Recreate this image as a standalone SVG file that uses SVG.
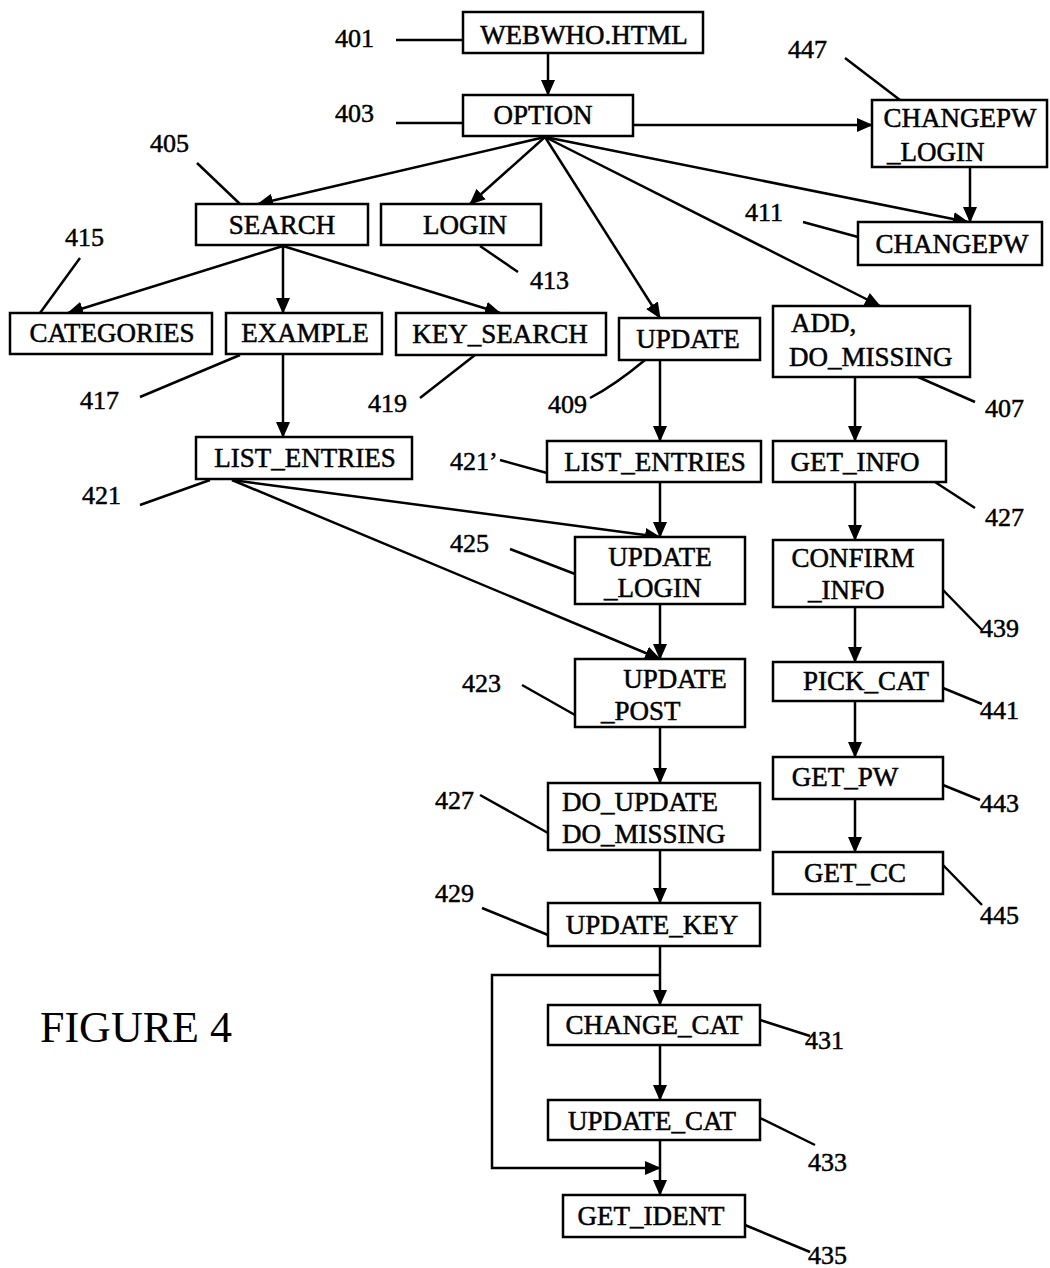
<svg xmlns="http://www.w3.org/2000/svg" width="1050" height="1268" viewBox="0 0 1050 1268">
<style>
.box{fill:#fff;stroke:#000;stroke-width:2.5}
.t{font-family:"Liberation Serif","Times New Roman",serif;font-size:27px;fill:#000;stroke:#000;stroke-width:0.5}
.c{text-anchor:middle}
.n{font-family:"Liberation Serif","Times New Roman",serif;font-size:26px;fill:#000;stroke:#000;stroke-width:0.5}
.ln{stroke:#000;stroke-width:2.5;fill:none}
.ar{stroke:#000;stroke-width:2.5;fill:none;marker-end:url(#ah)}
</style>
<defs>
<marker id="ah" markerWidth="16" markerHeight="14" refX="15" refY="7" orient="auto" markerUnits="userSpaceOnUse">
<path d="M0,0 L16,7 L0,14 Z" fill="#000"/>
</marker>
</defs>
<rect width="1050" height="1268" fill="#fff"/>

<g id="connectors">
<line class="ar" x1="548" y1="53" x2="548" y2="95"/>
<line class="ar" x1="633" y1="125" x2="872" y2="125"/>
<line class="ar" x1="545" y1="137" x2="258" y2="204"/>
<line class="ar" x1="545" y1="137" x2="470" y2="204"/>
<line class="ar" x1="545" y1="137" x2="660" y2="318"/>
<line class="ar" x1="545" y1="137" x2="880" y2="306"/>
<line class="ar" x1="545" y1="137" x2="968" y2="222"/>
<line class="ar" x1="970" y1="167" x2="970" y2="222"/>
<line class="ar" x1="283" y1="246" x2="68" y2="313"/>
<line class="ar" x1="283" y1="246" x2="283" y2="313"/>
<line class="ar" x1="283" y1="246" x2="500" y2="313"/>
<line class="ar" x1="283" y1="354" x2="283" y2="437"/>
<line class="ar" x1="660" y1="360" x2="660" y2="441"/>
<line class="ar" x1="660" y1="482" x2="660" y2="537"/>
<line class="ar" x1="232" y1="480" x2="660" y2="537"/>
<line class="ar" x1="232" y1="480" x2="660" y2="659"/>
<line class="ar" x1="660" y1="604" x2="660" y2="659"/>
<line class="ar" x1="660" y1="727" x2="660" y2="783"/>
<line class="ar" x1="660" y1="850" x2="660" y2="903"/>
<line class="ar" x1="660" y1="946" x2="660" y2="1005"/>
<polyline class="ar" points="660,975 492,975 492,1168 660,1168"/>
<line class="ar" x1="660" y1="1045" x2="660" y2="1100"/>
<line class="ar" x1="660" y1="1140" x2="660" y2="1195"/>
<line class="ar" x1="855" y1="377" x2="855" y2="441"/>
<line class="ar" x1="855" y1="482" x2="855" y2="540"/>
<line class="ar" x1="855" y1="607" x2="855" y2="662"/>
<line class="ar" x1="855" y1="701" x2="855" y2="757"/>
<line class="ar" x1="855" y1="799" x2="855" y2="852"/>
</g>

<g id="leaders">
<line class="ln" x1="396" y1="40" x2="463" y2="40"/>
<line class="ln" x1="396" y1="123" x2="463" y2="123"/>
<line class="ln" x1="845" y1="58" x2="900" y2="100"/>
<line class="ln" x1="197" y1="163" x2="240" y2="204"/>
<line class="ln" x1="803" y1="222" x2="858" y2="237"/>
<line class="ln" x1="480" y1="246" x2="518" y2="272"/>
<line class="ln" x1="80" y1="258" x2="40" y2="313"/>
<line class="ln" x1="140" y1="397" x2="240" y2="355"/>
<line class="ln" x1="420" y1="398" x2="475" y2="355"/>
<path class="ln" d="M590,398 Q615,385 645,360"/>
<line class="ln" x1="918" y1="377" x2="975" y2="402"/>
<line class="ln" x1="500" y1="460" x2="547" y2="473"/>
<line class="ln" x1="140" y1="505" x2="210" y2="480"/>
<line class="ln" x1="935" y1="482" x2="975" y2="508"/>
<line class="ln" x1="510" y1="549" x2="575" y2="574"/>
<line class="ln" x1="943" y1="590" x2="982" y2="630"/>
<line class="ln" x1="522" y1="685" x2="575" y2="715"/>
<line class="ln" x1="943" y1="688" x2="982" y2="704"/>
<line class="ln" x1="480" y1="795" x2="548" y2="833"/>
<line class="ln" x1="943" y1="785" x2="980" y2="800"/>
<line class="ln" x1="943" y1="865" x2="982" y2="905"/>
<line class="ln" x1="482" y1="908" x2="548" y2="935"/>
<line class="ln" x1="760" y1="1020" x2="810" y2="1036"/>
<line class="ln" x1="760" y1="1118" x2="815" y2="1145"/>
<line class="ln" x1="745" y1="1225" x2="810" y2="1252"/>
</g>

<g id="n401"><rect class="box" x="463" y="12" width="240" height="41"/><text class="t c" x="584" y="44">WEBWHO.HTML</text></g>
<g id="n403"><rect class="box" x="463" y="95" width="170" height="41"/><text class="t c" x="543" y="124">OPTION</text></g>
<g id="n447"><rect class="box" x="872" y="100" width="175" height="67"/><text class="t c" x="960" y="127">CHANGEPW</text><text class="t" x="887" y="161">_LOGIN</text></g>
<g id="n405"><rect class="box" x="196" y="204" width="172" height="41"/><text class="t c" x="282" y="234">SEARCH</text></g>
<g id="n413"><rect class="box" x="381" y="204" width="160" height="41"/><text class="t c" x="465" y="234">LOGIN</text></g>
<g id="n411"><rect class="box" x="858" y="222" width="184" height="43"/><text class="t c" x="952" y="253">CHANGEPW</text></g>
<g id="n415"><rect class="box" x="10" y="313" width="202" height="41"/><text class="t c" x="112" y="342">CATEGORIES</text></g>
<g id="n417"><rect class="box" x="226" y="313" width="156" height="41"/><text class="t c" x="305" y="342">EXAMPLE</text></g>
<g id="n419"><rect class="box" x="396" y="313" width="210" height="42"/><text class="t c" x="500" y="343">KEY_SEARCH</text></g>
<g id="n409"><rect class="box" x="619" y="318" width="141" height="42"/><text class="t c" x="688" y="348">UPDATE</text></g>
<g id="n407"><rect class="box" x="773" y="306" width="197" height="71"/><text class="t" x="791" y="332">ADD,</text><text class="t" x="789" y="366">DO_MISSING</text></g>
<g id="n421"><rect class="box" x="196" y="437" width="216" height="42"/><text class="t c" x="305" y="467">LIST_ENTRIES</text></g>
<g id="n421p"><rect class="box" x="547" y="441" width="214" height="41"/><text class="t c" x="655" y="471">LIST_ENTRIES</text></g>
<g id="n427r"><rect class="box" x="773" y="441" width="173" height="41"/><text class="t c" x="855" y="471">GET_INFO</text></g>
<g id="n425"><rect class="box" x="575" y="537" width="170" height="67"/><text class="t c" x="660" y="566">UPDATE</text><text class="t" x="604" y="597">_LOGIN</text></g>
<g id="n439"><rect class="box" x="773" y="540" width="170" height="67"/><text class="t c" x="853" y="567">CONFIRM</text><text class="t" x="808" y="599">_INFO</text></g>
<g id="n423"><rect class="box" x="575" y="659" width="170" height="68"/><text class="t c" x="675" y="688">UPDATE</text><text class="t" x="601" y="720">_POST</text></g>
<g id="n441"><rect class="box" x="773" y="662" width="170" height="39"/><text class="t c" x="866" y="690">PICK_CAT</text></g>
<g id="n427l"><rect class="box" x="548" y="783" width="212" height="67"/><text class="t" x="562" y="811">DO_UPDATE</text><text class="t" x="562" y="843">DO_MISSING</text></g>
<g id="n443"><rect class="box" x="773" y="757" width="170" height="42"/><text class="t c" x="845" y="786">GET_PW</text></g>
<g id="n445"><rect class="box" x="773" y="852" width="170" height="42"/><text class="t c" x="855" y="882">GET_CC</text></g>
<g id="n429"><rect class="box" x="548" y="903" width="212" height="43"/><text class="t c" x="652" y="934">UPDATE_KEY</text></g>
<g id="n431"><rect class="box" x="548" y="1005" width="212" height="40"/><text class="t c" x="654" y="1034">CHANGE_CAT</text></g>
<g id="n433"><rect class="box" x="548" y="1100" width="212" height="40"/><text class="t c" x="652" y="1130">UPDATE_CAT</text></g>
<g id="n435"><rect class="box" x="563" y="1195" width="182" height="42"/><text class="t c" x="651" y="1225">GET_IDENT</text></g>

<g id="labels">
<text class="n" x="335" y="47">401</text>
<text class="n" x="335" y="122">403</text>
<text class="n" x="788" y="58">447</text>
<text class="n" x="150" y="152">405</text>
<text class="n" x="745" y="221">411</text>
<text class="n" x="530" y="289">413</text>
<text class="n" x="65" y="246">415</text>
<text class="n" x="80" y="409">417</text>
<text class="n" x="368" y="412">419</text>
<text class="n" x="548" y="413">409</text>
<text class="n" x="985" y="417">407</text>
<text class="n" x="450" y="470">421’</text>
<text class="n" x="82" y="504">421</text>
<text class="n" x="985" y="526">427</text>
<text class="n" x="450" y="552">425</text>
<text class="n" x="980" y="637">439</text>
<text class="n" x="462" y="692">423</text>
<text class="n" x="980" y="719">441</text>
<text class="n" x="435" y="809">427</text>
<text class="n" x="980" y="812">443</text>
<text class="n" x="980" y="924">445</text>
<text class="n" x="435" y="902">429</text>
<text class="n" x="805" y="1049">431</text>
<text class="n" x="808" y="1171">433</text>
<text class="n" x="808" y="1264">435</text>
<text style="font-family:'Liberation Serif','Times New Roman',serif;font-size:44px" x="40" y="1042">FIGURE 4</text>
</g>
</svg>
